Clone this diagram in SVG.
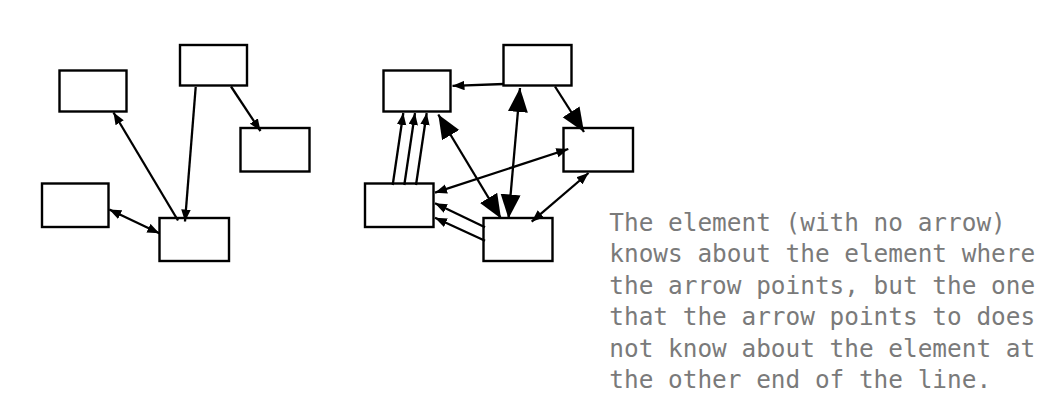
<svg xmlns="http://www.w3.org/2000/svg" width="1063" height="408" viewBox="0 0 1063 408">
<defs>
<marker id="s" markerUnits="userSpaceOnUse" markerWidth="13" markerHeight="10" refX="12" refY="4.75" orient="auto-start-reverse"><path d="M0,0 L12,4.75 L0,9.5 z" fill="#000"/></marker>
<marker id="b" markerUnits="userSpaceOnUse" markerWidth="25" markerHeight="21" refX="24" refY="10" orient="auto-start-reverse"><path d="M0,0 L24,10 L0,20 z" fill="#000"/></marker>
</defs>
<style>
.box{fill:#fff;stroke:#000;stroke-width:2.4}
.ln{fill:none;stroke:#000;stroke-width:2.3}
.txt{font-family:"DejaVu Sans Mono","Liberation Mono",monospace;font-size:24.4px;fill:#7a7a7a}
</style>
<rect width="1063" height="408" fill="#fff"/>
<g id="left-A"><rect class="box" x="59.5" y="70.5" width="67" height="41"/></g>
<g id="left-B"><rect class="box" x="180" y="45" width="67" height="40.5"/></g>
<g id="left-C"><rect class="box" x="240.5" y="128" width="69" height="43.5"/></g>
<g id="left-D"><rect class="box" x="42" y="183.5" width="66.5" height="43.5"/></g>
<g id="left-E"><rect class="box" x="159.5" y="218" width="69.5" height="43"/></g>
<g id="right-F"><rect class="box" x="383.5" y="70.5" width="67" height="41"/></g>
<g id="right-G"><rect class="box" x="503.5" y="45" width="68" height="40.5"/></g>
<g id="right-H"><rect class="box" x="563.5" y="128" width="69.5" height="43.5"/></g>
<g id="right-I"><rect class="box" x="365" y="183.5" width="68.5" height="43.5"/></g>
<g id="right-J"><rect class="box" x="483.5" y="218" width="69" height="43"/></g>
<g id="connectors">
<line class="ln" x1="178" y1="220.5" x2="113.5" y2="112.5" marker-end="url(#s)"/>
<line class="ln" x1="195.7" y1="87" x2="185" y2="221.5" marker-end="url(#s)"/>
<line class="ln" x1="231" y1="86.5" x2="260.5" y2="131" marker-end="url(#s)"/>
<line class="ln" x1="109.3" y1="209.5" x2="159.3" y2="233.3" marker-start="url(#s)" marker-end="url(#s)"/>
<line class="ln" x1="504" y1="84" x2="452.5" y2="85.8" marker-end="url(#s)"/>
<line class="ln" x1="555" y1="86.5" x2="584" y2="132" marker-end="url(#b)"/>
<line class="ln" x1="520" y1="88" x2="508.5" y2="218.5" marker-start="url(#b)" marker-end="url(#b)"/>
<line class="ln" x1="438.3" y1="114.5" x2="501" y2="218.5" marker-start="url(#b)" marker-end="url(#b)"/>
<line class="ln" x1="392.7" y1="185" x2="403.3" y2="113" marker-end="url(#s)"/>
<line class="ln" x1="404.3" y1="185" x2="415" y2="113" marker-end="url(#s)"/>
<line class="ln" x1="416" y1="185" x2="426.7" y2="113" marker-end="url(#s)"/>
<line class="ln" x1="568.3" y1="149" x2="435" y2="192.7" marker-start="url(#s)" marker-end="url(#s)"/>
<line class="ln" x1="588.5" y1="173" x2="531.7" y2="221.7" marker-start="url(#s)" marker-end="url(#s)"/>
<line class="ln" x1="485" y1="227.3" x2="435" y2="203.3" marker-end="url(#s)"/>
<line class="ln" x1="485" y1="240.7" x2="435" y2="217.7" marker-end="url(#s)"/>
</g>
<g id="caption" class="txt">
<text x="609.3" y="230.7">The element (with no arrow)</text>
<text x="609.3" y="262.2">knows about the element where</text>
<text x="609.3" y="293.7">the arrow points, but the one</text>
<text x="609.3" y="325.2">that the arrow points to does</text>
<text x="609.3" y="356.7">not know about the element at</text>
<text x="609.3" y="388.2">the other end of the line.</text>
</g>
</svg>
